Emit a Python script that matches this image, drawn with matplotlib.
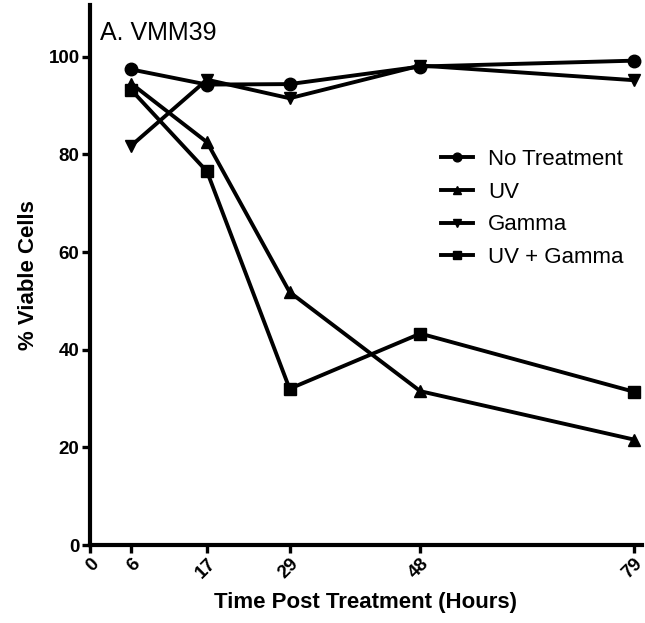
import matplotlib
matplotlib.use("Agg")
import matplotlib.pyplot as plt

plt.rcParams['font.family'] = ['Liberation Sans', 'DejaVu Sans']

hours = [6, 17, 29, 48, 79]
no_treatment = [97.4, 94.3, 94.4, 98.0, 99.2]
uv = [94.5, 82.5, 51.8, 31.5, 21.6]
gamma = [81.8, 95.3, 91.5, 98.2, 95.2]
uv_gamma = [93.2, 76.5, 32.0, 43.3, 31.4]
xticks = [0, 6, 17, 29, 48, 79]
yticks = [0, 20, 40, 60, 80, 100]

series = [
    ("No Treatment", no_treatment, "o"),
    ("UV", uv, "^"),
    ("Gamma", gamma, "v"),
    ("UV + Gamma", uv_gamma, "s"),
]

fig = plt.figure(figsize=(6.45, 6.23), dpi=100)
# axes box placed to match the original figure (pixels: x 90..642, y 5..545)
ax = fig.add_axes([90 / 645, 1 - 545 / 623, 552 / 645, 540 / 623])

for label, vals, m in series:
    ax.plot(hours, vals, color="black", lw=2.8, marker=m, ms=9, label=label)

ax.set_xlim(0, 80.2)
ax.set_ylim(0, 110.6)
ax.set_xticks(xticks)
ax.set_xticklabels([str(t) for t in xticks], rotation=45, ha="right", va="top",
                   rotation_mode="anchor", fontweight="bold", fontsize=13.5)
ax.set_yticks(yticks)
ax.set_yticklabels([str(t) for t in yticks], fontweight="bold", fontsize=13.5)
ax.tick_params(width=2.4, length=5.5, direction="out", pad=2)

for s in ["top", "right"]:
    ax.spines[s].set_visible(False)
for s in ["left", "bottom"]:
    ax.spines[s].set_linewidth(3)

ax.set_xlabel("Time Post Treatment (Hours)", fontweight="bold", fontsize=16, labelpad=7)
ax.set_ylabel("% Viable Cells", fontweight="bold", fontsize=16, labelpad=7)
ax.text(10 / 552, 1 - 16 / 540, "A. VMM39", transform=ax.transAxes, fontsize=18, va="top")

ax.legend(loc="upper left", bbox_to_anchor=(0.635, 0.733), frameon=False, fontsize=16,
          handlelength=1.45, handletextpad=0.7, labelspacing=0.52, markerscale=0.7,
          borderpad=0, borderaxespad=0)

fig.savefig("out.png", dpi=100)
